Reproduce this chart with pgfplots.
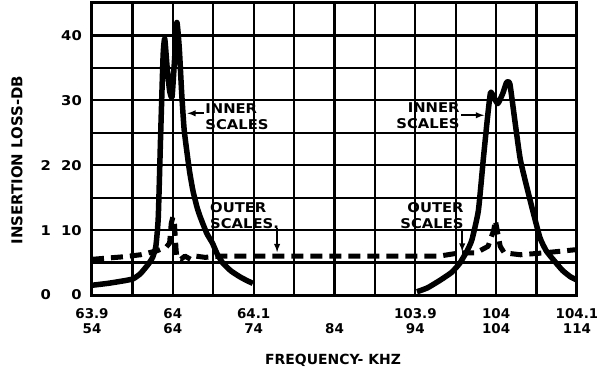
\documentclass[border=0pt]{standalone}
\usepackage{fontspec}
\setmainfont{DejaVu Sans}
\newfontfamily\wide{DejaVu Sans}[FakeStretch=1.1]
\usepackage{pgfplots}
\pgfplotsset{compat=1.18}
\begin{document}
\begin{tikzpicture}
\useasboundingbox (-92bp,-79bp) rectangle (505bp,295bp);
\begin{axis}[
  scale only axis, width=485bp, height=292bp,
  anchor=south west, at={(0,0)},
  xmin=54, xmax=114, ymin=0, ymax=45,
  xtick={54,64,74,84,94,104,114},
  xticklabels={63.9\\54, 64\\64, 64.1\\74, \phantom{0}\\84, 103.9\\94, 104\\104, 104.1\\114},
  minor xtick={59,69,79,89,99,109},
  ytick={0,10,20,30,40},
  yticklabels={\makebox[10bp][c]{0}\makebox[31bp][r]{0},
               \makebox[10bp][c]{1}\makebox[31bp][r]{10},
               \makebox[10bp][c]{2}\makebox[31bp][r]{20},
               \makebox[41bp][r]{30},
               \makebox[41bp][r]{40}},
  minor ytick={5,15,25,35},
  grid=both,
  grid style={black, line width=2.3bp},
  minor grid style={black, line width=2.3bp},
  axis line style={line width=3bp},
  major tick length=0pt, minor tick length=0pt,
  /pgf/number format/assume math mode=true,
  xticklabel style={align=center, inner sep=0pt, yshift=-13bp,
    font=\bfseries\fontsize{13.5}{15}\selectfont},
  yticklabel style={anchor=east, inner sep=0pt, xshift=-10bp,
    font=\wide\bfseries\fontsize{13.5}{14.5}\selectfont},
  xlabel={FREQUENCY- KHZ},
  xlabel style={at={(axis description cs:0.497,-0.223)}, anchor=center,
    font=\bfseries\fontsize{14}{16}\selectfont},
  ylabel={INSERTION LOSS-DB},
  ylabel style={at={(axis description cs:-0.155,0.462)}, anchor=center,
    font=\bfseries\fontsize{15}{17}\selectfont},
]
% inner scales, left resonance
\addplot[black, line width=5.5bp, line join=round, smooth, tension=0.3] coordinates {
(54,1.5) (56,1.8) (58,2.2) (59.1,2.5) (60,3.3) (61,4.8) (61.5,5.8) (61.9,7.5)
(62.2,12) (62.5,25) (62.8,37) (63.0,39.5) (63.3,35) (63.6,31.5) (63.9,30.5)
(64.2,36) (64.5,42) (64.8,38) (65.1,31) (65.4,25.5) (65.8,21.5) (66.1,18.8)
(66.5,16) (67.0,13.5) (67.4,12) (68.2,9.5) (68.9,8) (69.5,6.3) (70.2,4.9) (71.2,3.7)
(72.3,2.8) (73.2,2.2) (73.9,1.8)
};
% inner scales, right resonance
\addplot[black, line width=5.5bp, line join=round, smooth, tension=0.3] coordinates {
(94.2,0.5) (95.5,1.1) (97.1,2.3) (98.5,3.5) (99.5,4.9) (100.4,6.8) (101.0,8.5)
(101.8,13) (102.4,20.8) (102.9,27) (103.3,31.2) (103.7,30.5) (104.2,29.5)
(104.8,31) (105.3,32.8) (105.7,32.5) (106.3,27) (107.0,20.8) (108.2,14.6)
(109.4,8.9) (110.2,6.8) (111.1,5.4) (112.2,3.8) (113.2,2.8) (114,2.3)
};
% outer scales
\addplot[black, line width=5bp, dash pattern=on 12bp off 7bp, line join=round] coordinates {
(54,5.5) (56,5.7) (58,5.9) (60,6.2) (62,6.8) (63.2,7.4) (63.6,8) (63.8,11)
(64.0,12) (64.2,11) (64.3,9) (64.4,7) (64.5,5.7) (65,5.5) (65.5,6.0) (66.2,5.5)
(66.8,6.0) (68,5.8) (70,6) (75,6) (80,6) (85,6) (90,6) (97,6) (99.5,6.5)
(101.5,6.5) (103,7.5) (103.7,10) (103.9,11.5) (104.2,9.5) (104.5,7.5)
(105,6.5) (107,6.2) (110,6.5) (114,7)
};
% annotations
\node[anchor=west, align=left, inner sep=0pt,
  font=\wide\bfseries\fontsize{13.5}{16}\selectfont] at (axis cs:68.0,27.5) {INNER\\SCALES};
\draw[line width=1.8bp, -latex] (axis cs:67.8,28) -- (axis cs:65.8,28);
\node[anchor=east, align=right, inner sep=0pt,
  font=\wide\bfseries\fontsize{13.5}{16}\selectfont] at (axis cs:99.5,27.7) {INNER\\SCALES};
\draw[line width=1.8bp, -latex] (axis cs:99.7,27.7) -- (axis cs:102.5,27.7);
\node[anchor=west, align=left, inner sep=0pt,
  font=\wide\bfseries\fontsize{13.5}{16}\selectfont] at (axis cs:68.6,12.2) {OUTER\\SCALES.};
\draw[line width=1.8bp, -latex] (axis cs:76.9,10.3) -- (axis cs:76.9,6.6);
\node[anchor=east, align=right, inner sep=0pt,
  font=\wide\bfseries\fontsize{13.5}{16}\selectfont] at (axis cs:100.0,12.2) {OUTER\\SCALES};
\draw[line width=1.8bp, -latex] (axis cs:99.8,10.2) -- (axis cs:99.8,6.7);
\end{axis}
\end{tikzpicture}
\end{document}
